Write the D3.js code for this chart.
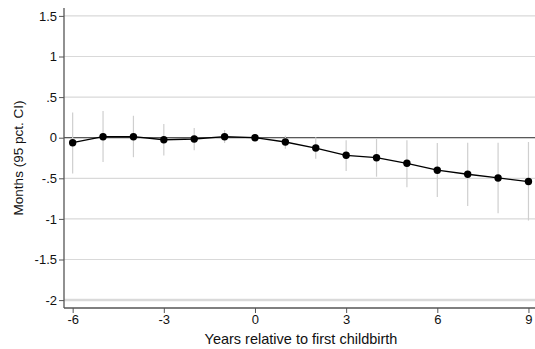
<!DOCTYPE html>
<html><head><meta charset="utf-8">
<script src="https://cdn.jsdelivr.net/npm/d3@7"></script>
<style>body{margin:0;background:#fff}svg{display:block;font-family:"Liberation Sans",Arial,sans-serif}</style>
</head><body>
<svg id="c" width="535" height="349"></svg>
<script>
const years = [-6,-5,-4,-3,-2,-1,0,1,2,3,4,5,6,7,8,9];
const estimates = [-0.062,0.012,0.012,-0.025,-0.016,0.012,0,-0.053,-0.127,-0.217,-0.246,-0.315,-0.40,-0.45,-0.496,-0.54];
const ciLow = [-0.44,-0.30,-0.24,-0.22,-0.155,-0.065,null,-0.135,-0.26,-0.41,-0.48,-0.61,-0.73,-0.84,-0.93,-1.02];
const ciHigh = [0.31,0.33,0.27,0.17,0.12,0.095,null,0.025,0.005,-0.03,-0.012,-0.03,-0.065,-0.062,-0.062,-0.053];
const yTicks = [1.5,1,0.5,0,-0.5,-1,-1.5,-2];
const yTickLabels = ["1.5","1",".5","0","-.5","-1","-1.5","-2"];
const xTicks = [-6,-3,0,3,6,9];
const xTickLabels = ["-6","-3","0","3","6","9"];

const svg = d3.select("#c");
const L = 64, R = 535, T = 8, B = 308;
const x = d3.scaleLinear().domain([-6.285, 9.215]).range([L, R]);
const y = d3.scaleLinear().domain([-2, 1.5]).range([300.1, 15.9]);

// gridlines
svg.append("g").selectAll("line").data(yTicks).join("line")
  .attr("x1", L).attr("x2", R).attr("y1", d => y(d)).attr("y2", d => y(d))
  .attr("stroke", "#d9d9d9").attr("stroke-width", d => d === -2 ? 2.5 : 1.2);
// zero line
svg.append("line").attr("x1", L).attr("x2", R).attr("y1", y(0)).attr("y2", y(0))
  .attr("stroke", "#595959").attr("stroke-width", 1.3);

// y axis
const yAxis = d3.axisLeft(y).tickValues(yTicks).tickFormat((d,i) => yTickLabels[i]).tickSize(5).tickSizeOuter(0);
const gy = svg.append("g").attr("transform", `translate(${L},0)`).call(yAxis);
gy.select(".domain").attr("d", `M0,${T}V${B}`).attr("stroke", "#555").attr("stroke-width", 1.3);
gy.selectAll(".tick line").attr("stroke", "#555");
gy.selectAll(".tick text").attr("font-size", 13).attr("fill", "#111").attr("font-family", "Liberation Sans, Arial, sans-serif").attr("x", -7);

// x axis
const xAxis = d3.axisBottom(x).tickValues(xTicks).tickFormat((d,i) => xTickLabels[i]).tickSize(5).tickSizeOuter(0);
const gx = svg.append("g").attr("transform", `translate(0,${B})`).call(xAxis);
gx.select(".domain").attr("d", `M${L},0H${R}`).attr("stroke", "#555").attr("stroke-width", 1.3);
gx.selectAll(".tick line").attr("stroke", "#555");
gx.selectAll(".tick text").attr("font-size", 13).attr("fill", "#111").attr("font-family", "Liberation Sans, Arial, sans-serif").attr("y", 7);

// CIs
const ciData = years.map((yr,i) => ({yr, lo: ciLow[i], hi: ciHigh[i]})).filter(d => d.lo !== null);
svg.append("g").selectAll("line").data(ciData).join("line")
  .attr("x1", d => x(d.yr)).attr("x2", d => x(d.yr))
  .attr("y1", d => y(d.hi)).attr("y2", d => y(d.lo))
  .attr("stroke", "#cfcfcf").attr("stroke-width", 1.2);

// line
const pts = years.map((yr,i) => [yr, estimates[i]]);
svg.append("path").datum(pts)
  .attr("d", d3.line().x(d => x(d[0])).y(d => y(d[1])))
  .attr("fill", "none").attr("stroke", "#000").attr("stroke-width", 1.3);
svg.append("g").selectAll("circle").data(pts).join("circle")
  .attr("cx", d => x(d[0])).attr("cy", d => y(d[1])).attr("r", 3.7).attr("fill", "#000");

// titles
svg.append("text").attr("x", 301).attr("y", 344).attr("text-anchor", "middle")
  .attr("font-size", 14.5).attr("fill", "#111").text("Years relative to first childbirth");
svg.append("text").attr("transform", `translate(23,158) rotate(-90)`).attr("text-anchor", "middle")
  .attr("font-size", 13.5).attr("fill", "#111").text("Months (95 pct. CI)");
</script>
</body></html>
